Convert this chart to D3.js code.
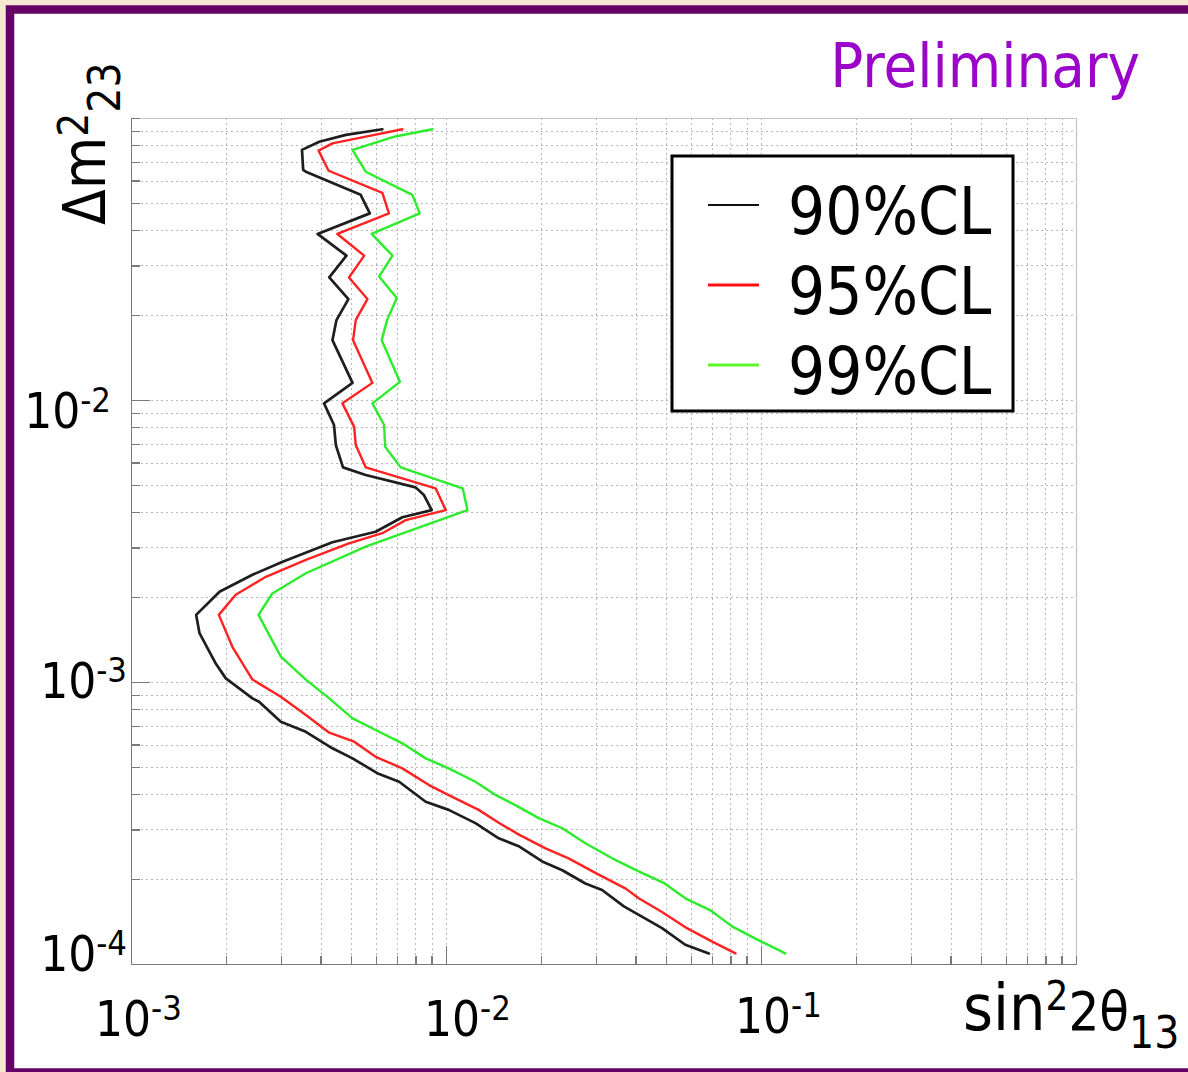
<!DOCTYPE html>
<html>
<head>
<meta charset="utf-8">
<script src="https://cdn.jsdelivr.net/npm/d3@7"></script>
<style>
  html, body { margin: 0; padding: 0; background: #f4e8d3; }
  svg text { font-family: "DejaVu Sans Condensed", "DejaVu Sans", sans-serif; font-stretch: condensed; }
</style>
</head>
<body>
<div id="chart"></div>
<script>
// axis decades that carry a label
var sinTicks = [1e-3, 1e-2, 1e-1];
var dm2Ticks = [1e-2, 1e-3, 1e-4];
var clNames = ['90%CL', '95%CL', '99%CL'];

// contours: [sin^2 2theta13, dm^2_23]
var cl90 = [
  [6.28e-3, 9.12e-2], [4.81e-3, 8.71e-2], [3.96e-3, 8.24e-2], [3.49e-3, 7.71e-2],
  [3.52e-3, 6.55e-2], [3.59e-3, 6.45e-2], [5.36e-3, 5.34e-2], [5.73e-3, 4.59e-2],
  [3.91e-3, 3.88e-2], [4.83e-3, 3.25e-2], [4.26e-3, 2.72e-2], [4.90e-3, 2.28e-2],
  [4.49e-3, 1.92e-2], [4.36e-3, 1.63e-2], [5.05e-3, 1.15e-2], [4.10e-3, 9.73e-3],
  [4.41e-3, 8.15e-3], [4.47e-3, 6.92e-3], [4.71e-3, 5.77e-3], [5.56e-3, 5.42e-3],
  [8.01e-3, 4.90e-3], [8.51e-3, 4.60e-3], [9.01e-3, 4.07e-3], [7.27e-3, 3.84e-3],
  [5.98e-3, 3.41e-3], [4.36e-3, 3.13e-3], [3.03e-3, 2.67e-3], [2.43e-3, 2.40e-3],
  [1.91e-3, 2.09e-3], [1.61e-3, 1.73e-3], [1.65e-3, 1.49e-3], [1.86e-3, 1.16e-3],
  [2.00e-3, 1.03e-3], [2.43e-3, 8.75e-4], [2.55e-3, 8.51e-4], [2.99e-3, 7.23e-4],
  [3.59e-3, 6.66e-4], [4.36e-3, 5.82e-4], [5.05e-3, 5.36e-4], [6.05e-3, 4.75e-4],
  [7.10e-3, 4.43e-4], [8.62e-3, 3.76e-4], [1.02e-2, 3.52e-4], [1.24e-2, 3.16e-4],
  [1.47e-2, 2.79e-4], [1.71e-2, 2.61e-4], [2.02e-2, 2.31e-4], [2.34e-2, 2.15e-4],
  [2.77e-2, 1.93e-4], [3.13e-2, 1.83e-4], [3.67e-2, 1.60e-4], [4.20e-2, 1.47e-4],
  [4.85e-2, 1.34e-4], [5.75e-2, 1.17e-4], [6.83e-2, 1.09e-4]
];
var cl95 = [
  [7.27e-3, 9.12e-2], [5.56e-3, 8.59e-2], [4.36e-3, 8.13e-2], [3.94e-3, 7.66e-2],
  [4.24e-3, 6.50e-2], [6.28e-3, 5.43e-2], [6.59e-3, 4.59e-2], [4.52e-3, 3.88e-2],
  [5.50e-3, 3.25e-2], [4.92e-3, 2.72e-2], [5.63e-3, 2.28e-2], [5.17e-3, 1.92e-2],
  [5.07e-3, 1.63e-2], [5.84e-3, 1.15e-2], [4.69e-3, 9.73e-3], [5.11e-3, 8.03e-3],
  [5.17e-3, 6.92e-3], [5.56e-3, 5.77e-3], [9.27e-3, 4.86e-3], [9.98e-3, 4.07e-3],
  [7.45e-3, 3.75e-3], [6.28e-3, 3.37e-3], [4.92e-3, 3.10e-3], [3.59e-3, 2.71e-3],
  [2.68e-3, 2.36e-3], [2.15e-3, 2.04e-3], [1.90e-3, 1.73e-3], [2.10e-3, 1.33e-3],
  [2.43e-3, 1.02e-3], [2.99e-3, 8.87e-4], [3.59e-3, 7.64e-4], [4.26e-3, 6.61e-4],
  [5.11e-3, 6.14e-4], [5.98e-3, 5.43e-4], [7.27e-3, 4.94e-4], [8.83e-3, 4.31e-4],
  [1.02e-2, 3.97e-4], [1.27e-2, 3.52e-4], [1.47e-2, 3.17e-4], [1.71e-2, 2.87e-4],
  [2.07e-2, 2.57e-4], [2.45e-2, 2.37e-4], [2.99e-2, 2.10e-4], [3.72e-2, 1.85e-4],
  [4.09e-2, 1.71e-4], [4.85e-2, 1.53e-4], [5.82e-2, 1.34e-4], [7.00e-2, 1.20e-4],
  [8.30e-2, 1.09e-4]
];
var cl99 = [
  [9.05e-3, 9.12e-2], [6.90e-3, 8.60e-2], [5.05e-3, 7.71e-2], [5.56e-3, 6.45e-2],
  [7.82e-3, 5.34e-2], [8.25e-3, 4.59e-2], [5.81e-3, 3.88e-2], [6.76e-3, 3.25e-2],
  [6.13e-3, 2.74e-2], [6.98e-3, 2.30e-2], [6.50e-3, 1.92e-2], [6.25e-3, 1.63e-2],
  [7.14e-3, 1.16e-2], [5.84e-3, 9.73e-3], [6.36e-3, 8.15e-3], [6.41e-3, 6.83e-3],
  [7.18e-3, 5.77e-3], [1.13e-2, 4.86e-3], [1.17e-2, 4.07e-3], [7.82e-3, 3.46e-3],
  [5.56e-3, 3.02e-3], [3.59e-3, 2.43e-3], [2.81e-3, 2.06e-3], [2.54e-3, 1.73e-3],
  [2.99e-3, 1.23e-3], [3.59e-3, 1.02e-3], [4.26e-3, 8.75e-4], [5.05e-3, 7.43e-4],
  [5.98e-3, 6.76e-4], [7.27e-3, 6.06e-4], [8.62e-3, 5.36e-4], [1.02e-2, 4.94e-4],
  [1.24e-2, 4.43e-4], [1.44e-2, 3.97e-4], [1.66e-2, 3.66e-4], [1.97e-2, 3.29e-4],
  [2.34e-2, 3.03e-4], [2.77e-2, 2.68e-4], [3.37e-2, 2.37e-4], [4.09e-2, 2.13e-4],
  [4.91e-2, 1.94e-4], [5.75e-2, 1.71e-4], [6.91e-2, 1.55e-4], [8.09e-2, 1.36e-4],
  [9.60e-2, 1.23e-4], [1.195e-1, 1.09e-4]
];

var series = [
  { name: clNames[0], data: cl90, color: '#1e1e1e', key: '#111', width: 2.7 },
  { name: clNames[1], data: cl95, color: '#ff2222', key: '#ff1010', width: 2.4 },
  { name: clNames[2], data: cl99, color: '#2cec2c', key: '#5cf52c', width: 2.4 }
];

var W = 1188, H = 1072;
var plot = { left: 131, top: 118, right: 1076, bottom: 964 };

var svg = d3.select('#chart').append('svg')
  .attr('width', W)
  .attr('height', H);

// slide frame
svg.append('rect')
  .attr('x', 10).attr('y', 9.5)
  .attr('width', W + 20).attr('height', 1063)
  .attr('fill', '#fff')
  .attr('stroke', '#660066')
  .attr('stroke-width', 8.5);

var x = d3.scaleLog().domain([1e-3, 1]).range([plot.left, plot.right]);
var y = d3.scaleLog().domain([1e-4, 1e-1]).range([plot.bottom, plot.top]);

// dotted grid on every minor decade step
var grid = svg.append('g').attr('class', 'grid')
  .attr('stroke', '#b8b8b8')
  .attr('stroke-width', 1)
  .attr('stroke-dasharray', '2,3');
grid.selectAll('.gx')
  .data(x.ticks().filter(function (d) { return x(d) > plot.left + 1 && x(d) < plot.right - 1; }))
  .enter().append('line')
  .attr('x1', function (d) { return Math.round(x(d)) + 0.5; })
  .attr('x2', function (d) { return Math.round(x(d)) + 0.5; })
  .attr('y1', plot.top)
  .attr('y2', plot.bottom);
grid.selectAll('.gy')
  .data(y.ticks().filter(function (d) { return y(d) > plot.top + 1 && y(d) < plot.bottom - 1; }))
  .enter().append('line')
  .attr('y1', function (d) { return Math.round(y(d)) + 0.5; })
  .attr('y2', function (d) { return Math.round(y(d)) + 0.5; })
  .attr('x1', plot.left)
  .attr('x2', plot.right);

// light frame on top / right
svg.append('path')
  .attr('d', 'M' + plot.left + ',' + (plot.top + 0.5) + 'H' + (plot.right + 0.5) + 'V' + plot.bottom)
  .attr('fill', 'none')
  .attr('stroke', '#c4c4c4')
  .attr('stroke-width', 1.2);

function styleAxis(g) {
  g.selectAll('text').remove();
  g.selectAll('line, path')
    .attr('stroke', '#7a7a7a')
    .attr('stroke-width', 1.3)
    .attr('shape-rendering', 'crispEdges');
}

// left axis, ticks pointing inwards
svg.append('g')
  .attr('transform', 'translate(' + plot.left + ',0)')
  .call(d3.axisRight(y).tickValues(y.ticks()).tickSizeInner(9).tickSizeOuter(0).tickFormat(''))
  .call(styleAxis);
svg.append('g')
  .attr('transform', 'translate(' + plot.left + ',0)')
  .call(d3.axisRight(y).tickValues(dm2Ticks).tickSizeInner(19).tickSizeOuter(0).tickFormat(''))
  .call(styleAxis);

// bottom axis, ticks pointing up
svg.append('g')
  .attr('transform', 'translate(0,' + plot.bottom + ')')
  .call(d3.axisTop(x).tickValues(x.ticks()).tickSizeInner(8).tickSizeOuter(0).tickFormat(''))
  .call(styleAxis);
svg.append('g')
  .attr('transform', 'translate(0,' + plot.bottom + ')')
  .call(d3.axisTop(x).tickValues(sinTicks).tickSizeInner(18).tickSizeOuter(0).tickFormat(''))
  .call(styleAxis);

// contour lines
var line = d3.line()
  .x(function (d) { return x(d[0]); })
  .y(function (d) { return y(d[1]); });

svg.append('g').selectAll('path.cl')
  .data(series)
  .enter().append('path')
  .attr('class', 'cl')
  .attr('d', function (d) { return line(d.data); })
  .attr('fill', 'none')
  .attr('stroke', function (d) { return d.color; })
  .attr('stroke-width', function (d) { return d.width; })
  .attr('stroke-linejoin', 'round')
  .attr('stroke-linecap', 'round');

// power-of-ten label: "10" with a raised exponent
function powerLabel(sel, v, size) {
  var e = Math.round(Math.log10(v));
  sel.append('tspan').attr('font-size', size).text('10');
  sel.append('tspan').attr('font-size', size * 0.7).attr('dy', -size * 0.33).text(e);
}

// y tick labels, placed by hand on the slide
var yLabelPos = [{ end: 111, dy: 28 }, { end: 127, dy: 16 }, { end: 127, dy: 7 }];
dm2Ticks.forEach(function (v, i) {
  var t = svg.append('text')
    .attr('x', yLabelPos[i].end)
    .attr('y', y(v) + yLabelPos[i].dy)
    .attr('text-anchor', 'end')
    .attr('fill', '#000');
  powerLabel(t, v, 49);
});

// x tick labels
var xLabelDx = [-36, -22, -26];
sinTicks.forEach(function (v, i) {
  var t = svg.append('text')
    .attr('x', x(v) + xLabelDx[i])
    .attr('y', i === 2 ? 1033 : 1036)
    .attr('fill', '#000');
  powerLabel(t, v, 49);
});

// axis titles
var yt = svg.append('text')
  .attr('transform', 'translate(105,225) rotate(-90)')
  .attr('fill', '#000');
yt.append('tspan').attr('font-size', 58).text('\u0394');
yt.append('tspan').attr('font-size', 60).text('m');
yt.append('tspan').attr('font-size', 42).attr('dy', -17).text('2');
yt.append('tspan').attr('font-size', 44).attr('dy', 32).text('23');

var xt = svg.append('text')
  .attr('x', 963)
  .attr('y', 1030)
  .attr('fill', '#000');
xt.append('tspan').attr('font-size', 64).text('sin');
xt.append('tspan').attr('font-size', 40).attr('dy', -20).text('2');
xt.append('tspan').attr('font-size', 54).attr('dy', 20).text('2\u03b8');
xt.append('tspan').attr('font-size', 44).attr('dy', 18).text('13');

svg.append('text')
  .attr('x', 1140)
  .attr('y', 87)
  .attr('text-anchor', 'end')
  .attr('font-size', 61)
  .attr('fill', '#9a05c9')
  .text('Preliminary');

// legend
var legend = svg.append('g').attr('transform', 'translate(672,156)');
legend.append('rect')
  .attr('width', 341)
  .attr('height', 255)
  .attr('fill', '#fff')
  .attr('stroke', '#000')
  .attr('stroke-width', 3);
var item = legend.selectAll('.item')
  .data(series)
  .enter().append('g')
  .attr('transform', function (d, i) { return 'translate(0,' + (49 + i * 80) + ')'; });
item.append('line')
  .attr('x1', 36).attr('x2', 87)
  .attr('stroke', function (d) { return d.key; })
  .attr('stroke-width', function (d, i) { return i === 0 ? 2.2 : 3; });
item.append('text')
  .attr('x', 116)
  .attr('y', 29)
  .attr('font-size', 65)
  .attr('fill', '#000')
  .text(function (d) { return d.name; });
</script>
</body>
</html>
